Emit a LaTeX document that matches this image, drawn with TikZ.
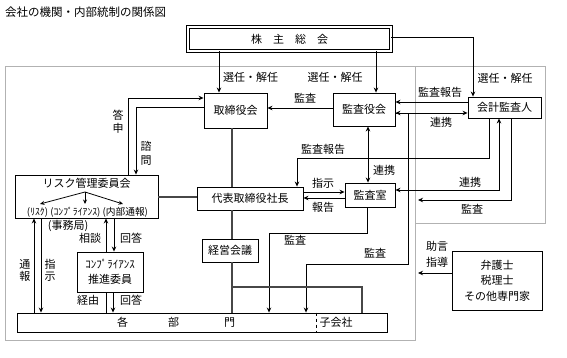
\documentclass[tikz,border=0pt]{standalone}
\usepackage{fontspec}
\setmainfont{Noto Sans CJK JP}
\usepackage{graphicx}
\usetikzlibrary{arrows.meta,calc}
\begin{document}
\begin{tikzpicture}[x=1pt,y=-1pt,
  box/.style={draw, line width=0.9pt, inner sep=0pt, font=\fontsize{11pt}{14pt}\selectfont},
  dbox/.style={draw, double=white, double distance=2pt, line width=0.8pt, inner sep=0pt, font=\fontsize{11pt}{14pt}\selectfont},
  lab/.style={inner sep=0pt, font=\fontsize{11pt}{14pt}\selectfont},
  arr/.style={draw, line width=0.8pt, -{Stealth[length=5pt,width=4.5pt]}},
  arrboth/.style={draw, line width=0.8pt, {Stealth[length=5pt,width=4.5pt]}-{Stealth[length=5pt,width=4.5pt]}},
  arrsmall/.style={draw, line width=0.8pt, -{Stealth[length=4.5pt,width=4pt]}},
  plain/.style={draw, line width=0.8pt},
  thickln/.style={draw=black!72, line width=2pt},
  greybox/.style={draw=black!30, line width=1pt}
]
\useasboundingbox (0,0) rectangle (567,358);

% grey frames
\draw[greybox] (5,67) rectangle (415,340);
\draw[greybox] (415,67) rectangle (545,223);

% title
\node[lab, anchor=west, font=\fontsize{11.5pt}{14pt}\selectfont] (title) at (5,12) {会社の機関・内部統制の関係図};

% nodes
\node[dbox, minimum width=203pt, minimum height=24pt] (kabu) at (289.5,39) {株　主　総　会};
\node[box, minimum width=63pt, minimum height=35pt] (tb) at (235.5,110.5) {取締役会};
\node[box, minimum width=62pt, minimum height=33pt] (ky) at (364,109.5) {監査役会};
\node[box, minimum width=73pt, minimum height=21pt] (kk) at (504.5,107.5) {会計監査人};
\node[box, minimum width=143pt, minimum height=43pt] (risk) at (86.5,196.5) {};
\node[lab] (risktitle) at (86.5,183) {リスク管理委員会};
\node[lab] (risksub) at (87.5,212) {\resizebox{121pt}{!}{\fontsize{9pt}{10pt}\selectfont (ﾘｽｸ) (ｺﾝﾌﾟﾗｲｱﾝｽ) (内部通報)}};
\node[lab] (jimu) at (68,226) {(事務局)};
\node[box, minimum width=106pt, minimum height=23pt] (dh) at (250,198.5) {代表取締役社長};
\node[box, minimum width=50pt, minimum height=24pt] (ks) at (370,195) {監査室};
\node[box, minimum width=56pt, minimum height=23pt] (kg) at (230,250.5) {経営会議};
\node[box, minimum width=66pt, minimum height=40pt, align=center, font=\fontsize{11pt}{15pt}\selectfont] (cp) at (110,272) {ｺﾝﾌﾟﾗｲｱﾝｽ\\推進委員};
\node[box, minimum width=370pt, minimum height=19pt] (bm) at (202,322.5) {};
\node[lab] (bmtext) at (176,322.5) {各\hspace{40pt}部\hspace{45pt}門};
\node[lab] (kogai) at (336,322.5) {子会社};
\draw[dashed, line width=0.8pt] (bm.north -| 316,0) -- (bm.south -| 316,0);
\node[box, minimum width=90pt, minimum height=59pt, align=center, font=\fontsize{11pt}{15.5pt}\selectfont] (sm) at (497,280.5) {弁護士\\税理士\\その他専門家};

% risk inner arrows
\coordinate (rsrc) at (85,192);
\coordinate (r1) at (40,204);
\coordinate (r2) at (85,204);
\coordinate (r3) at (123,204);
\draw[arrsmall] (rsrc) -- (r1);
\draw[arrsmall] (rsrc) -- (r2);
\draw[arrsmall] (rsrc) -- (r3);

% shareholders -> organs
\draw[arr] ([xshift=-16.5pt]tb.north |- kabu.south) -- ([xshift=-16.5pt]tb.north);
\node[lab] (l1) at (250.5,77) {選任・解任};
\draw[arr] ([xshift=12pt]ky.north |- kabu.south) -- ([xshift=12pt]ky.north);
\node[lab] (l2) at (335,77) {選任・解任};
\draw[arr] ([yshift=2pt]kabu.east) -| ([xshift=-31.5pt]kk.north);
\node[lab] (l3) at (505,78) {選任・解任};

% audit board -> board
\draw[arr] ([yshift=1.5pt]ky.west) -- ([yshift=1.5pt]ky.west -| tb.east);
\node[lab] (l4) at (305,98) {監査};
% accounting auditor <-> audit board
\draw[arr] ([yshift=5.5pt]kk.west) -- ([yshift=5.5pt]kk.west -| ky.east);
\node[lab] (l5) at (440,92) {監査報告};
\draw[arrboth] ([yshift=-3.5pt]ky.east) -- ([yshift=-3.5pt]ky.east -| kk.west);
\node[lab] (l6) at (441,122) {連携};
% audit board <-> audit office
\draw[arrboth] ([xshift=4pt]ky.south) -- ([xshift=4pt]ky.south |- ks.north);
\node[lab] (l7) at (384,170) {連携};
% accounting auditor -> president
\draw[arr] ([xshift=-15.5pt]kk.south) -- ++(0,40) -| ([xshift=47pt]dh.north);
\node[lab] (l8) at (323,149) {監査報告};
% president <-> audit office
\draw[arr] ([yshift=6.5pt]dh.east) -- ([yshift=6.5pt]dh.east -| ks.west);
\node[lab] (l9) at (323,183) {指示};
\draw[arr] ([yshift=-3pt]ks.west) -- ([yshift=-3pt]ks.west -| dh.east);
\node[lab] (l10) at (323,207) {報告};
% audit office <-> accounting auditor
\draw[arrboth] ([yshift=5pt]ks.east) -| ([xshift=-5.5pt]kk.south);
\node[lab] (l11) at (470,182) {連携};
% accounting auditor audit
\coordinate (kend) at (418,200);
\draw[arr] ([xshift=6.5pt]kk.south) |- (kend);
\node[lab] (l12) at (472,209) {監査};
% audit office -> departments
\draw[arr] ([xshift=-3pt]ks.south) -- ++(0,26) -| ([xshift=67pt]bm.north);
\node[lab] (l13) at (295,240) {監査};
% audit board -> subsidiaries
\coordinate (kv1) at (408,264);
\draw[arr] ([yshift=-3.5pt]ky.east) -| (kv1) -| ([xshift=104pt]bm.north);
\node[lab] (l14) at (375,253) {監査};

% thick management lines
\draw[thickln] ([xshift=-3.5pt]tb.south) -- ([xshift=-3.5pt]tb.south |- dh.north);
\draw[thickln] ([xshift=-18pt]dh.south) -- ([xshift=-18pt]dh.south |- kg.north);
\draw[thickln] ([xshift=2pt]kg.south) -- ([xshift=2pt]kg.south |- bm.north);
\coordinate (br) at (362,287);
\draw[thickln] ([xshift=2pt]kg.south |- br) -- (br) -- (br |- bm.north);
\draw[thickln] (risk.east) -- (risk.east -| dh.west);

% board <-> risk committee
\draw[arr] ([xshift=41.5pt]risk.north) |- ([yshift=12.5pt]tb.west);
\node[lab, align=center, font=\fontsize{11pt}{12.5pt}\selectfont] (l15) at (118,121.5) {答\\申};
\draw[arr] ([yshift=3.5pt]tb.west) -| ([xshift=49.5pt]risk.north);
\node[lab, align=center, font=\fontsize{11pt}{14pt}\selectfont] (l16) at (146,153) {諮\\問};

% risk committee <-> compliance
\draw[arr] ([xshift=-4pt]cp.north) -- ([xshift=-4pt]cp.north |- risk.south);
\draw[arr] ([xshift=4pt]cp.north |- risk.south) -- ([xshift=4pt]cp.north);
\node[lab] (l17) at (90,238) {相談};
\node[lab] (l18) at (131,238) {回答};

% departments <-> risk committee
\draw[arr] ([xshift=-52.5pt]risk.south |- bm.north) -- ([xshift=-52.5pt]risk.south);
\draw[arr] ([xshift=-45.5pt]risk.south) -- ([xshift=-45.5pt]risk.south |- bm.north);
\node[lab, align=center, font=\fontsize{11pt}{11.5pt}\selectfont] (l19) at (25,270.5) {通\\報};
\node[lab, align=center, font=\fontsize{11pt}{11.5pt}\selectfont] (l20) at (50,270.5) {指\\示};

% compliance -> departments
\draw[plain] ([xshift=-4pt]cp.south) -- ([xshift=-4pt]cp.south |- bm.north);
\draw[arr] ([xshift=3pt]cp.south) -- ([xshift=3pt]cp.south |- bm.north);
\node[lab] (l21) at (88,300) {経由};
\node[lab] (l22) at (131,300) {回答};

% experts
\coordinate (send) at (418,273);
\draw[arr] ([yshift=7.5pt]sm.west) -- (send);
\node[lab, align=center, font=\fontsize{11pt}{16pt}\selectfont] (l23) at (437,254) {助言\\指導};
\end{tikzpicture}
\end{document}
